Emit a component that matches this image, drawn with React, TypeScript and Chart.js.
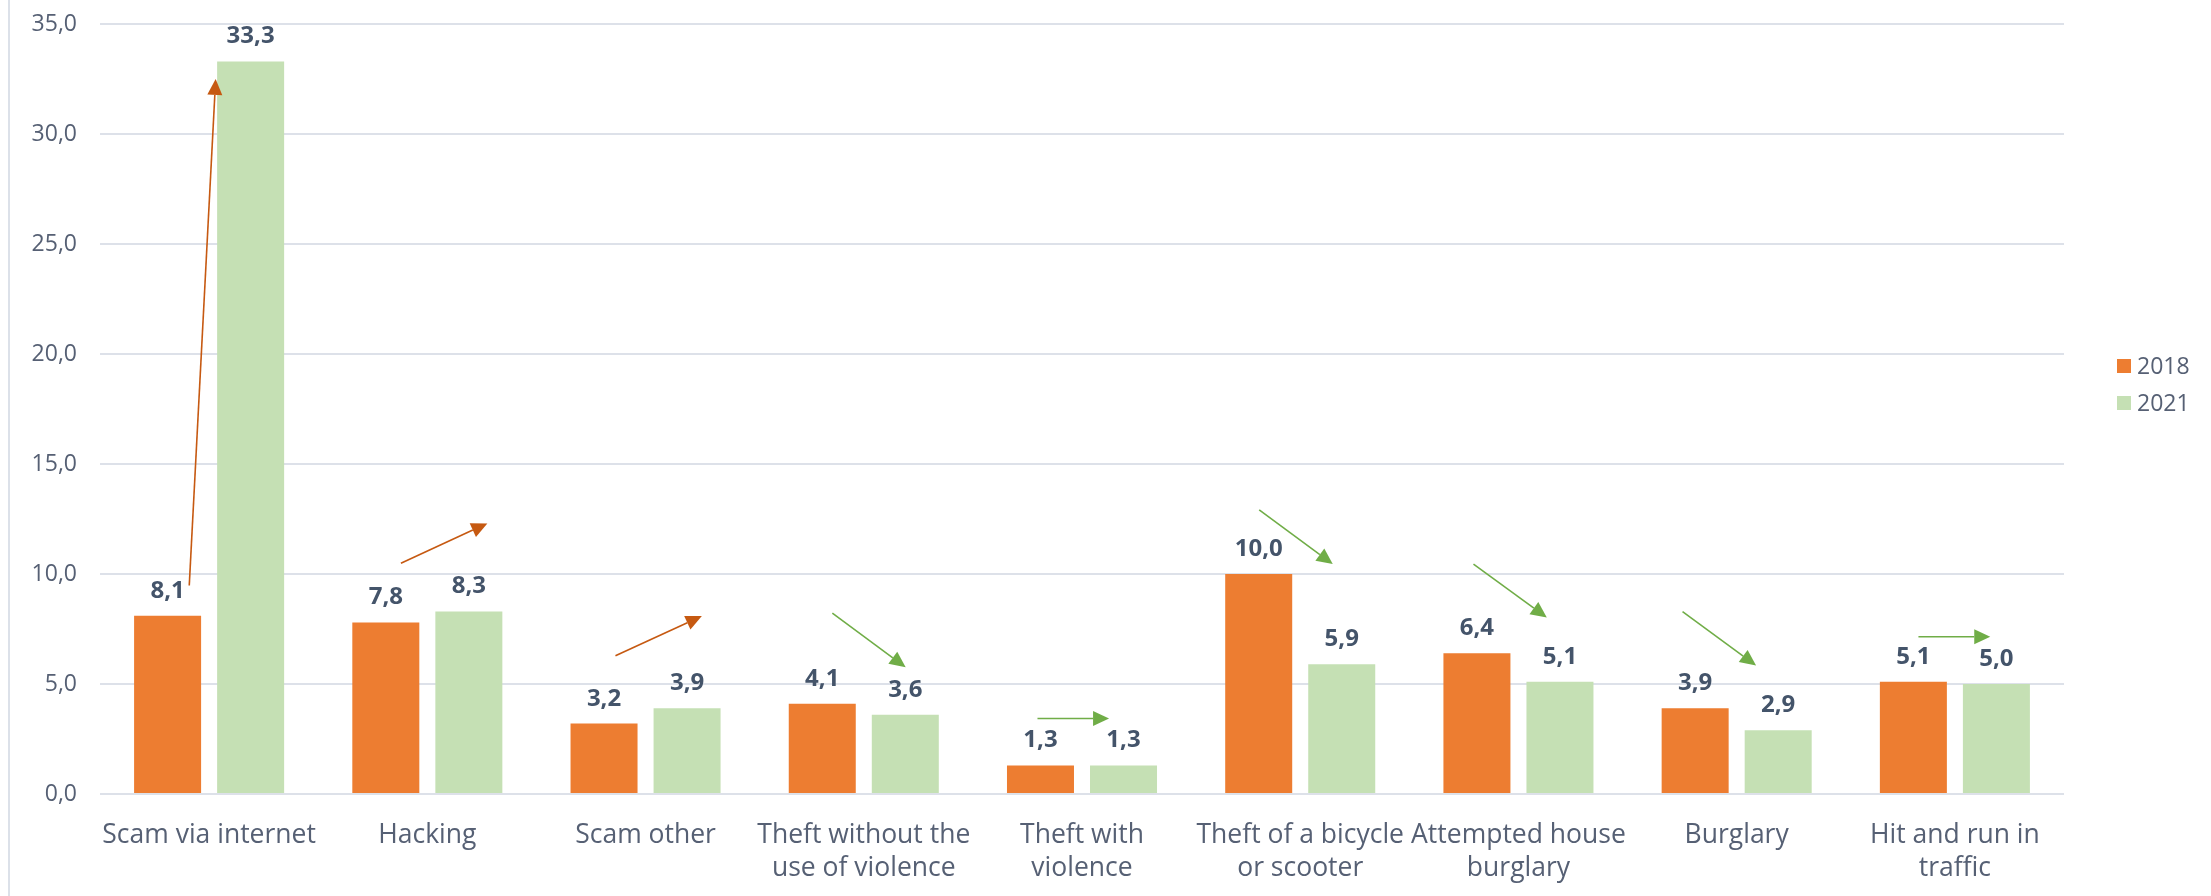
import { useEffect, useRef } from "react";
import { Chart, registerables } from "chart.js";

Chart.register(...registerables);

// Crime categories (multi-line where the axis label wraps)
const categories: (string | string[])[] = [
  "Scam via internet",
  "Hacking",
  "Scam other",
  ["Theft without the", "use of violence"],
  ["Theft with", "violence"],
  ["Theft of a bicycle", "or scooter"],
  ["Attempted house", "burglary"],
  "Burglary",
  ["Hit and run in", "traffic"],
];

const seriesLabels = ["2018", "2021"];
const values2018 = [8.1, 7.8, 3.2, 4.1, 1.3, 10.0, 6.4, 3.9, 5.1];
const values2021 = [33.3, 8.3, 3.9, 3.6, 1.3, 5.9, 5.1, 2.9, 5.0];

// Value axis range and tick step
const yMin = 0;
const yMax = 35;
const yStep = 5;

// Trend arrows, in axis units: [category position, value]
const arrowStart: [number, number][] = [
  [-0.091, 9.48],
  [0.879, 10.49],
  [1.862, 6.28],
  [2.856, 8.22],
  [3.796, 3.43],
  [4.812, 12.91],
  [5.794, 10.45],
  [6.752, 8.29],
  [7.833, 7.15],
];
const arrowEnd: [number, number][] = [
  [0.03, 32.5],
  [1.275, 12.3],
  [2.258, 8.09],
  [3.192, 5.76],
  [4.124, 3.43],
  [5.149, 10.45],
  [6.13, 8.02],
  [7.089, 5.84],
  [8.162, 7.15],
];

const FONT = "'Open Sans', sans-serif";
const ORANGE = "#ED7D31";
const GREEN = "#C5E0B4";
const UP_ARROW = "#C65911";
const DOWN_ARROW = "#70AD47";
const TEXT = "#566074";
const LABEL_TEXT = "#44546A";
const GRID = "#DDE1E9";

const fmt = (v: number) => v.toFixed(1).replace(".", ",");

const valueLabels = {
  id: "valueLabels",
  afterDatasetsDraw(chart: any) {
    const ctx = chart.ctx;
    ctx.save();
    ctx.font = `bold 24px ${FONT}`;
    ctx.fillStyle = LABEL_TEXT;
    ctx.textAlign = "center";
    ctx.textBaseline = "alphabetic";
    chart.data.datasets.forEach((ds: any, i: number) => {
      const meta = chart.getDatasetMeta(i);
      meta.data.forEach((bar: any, j: number) => {
        ctx.fillText(fmt(ds.data[j]), bar.x, bar.y - 18);
      });
    });
    ctx.restore();
  },
};

const trendArrows = {
  id: "trendArrows",
  afterDatasetsDraw(chart: any) {
    const ctx = chart.ctx;
    const xs = chart.scales.x;
    const ys = chart.scales.y;
    const headLen = 16;
    const headHalf = 7.5;
    ctx.save();
    arrowStart.forEach((s, i) => {
      const e = arrowEnd[i];
      const x1 = xs.getPixelForValue(s[0]);
      const y1 = ys.getPixelForValue(s[1]);
      const x2 = xs.getPixelForValue(e[0]);
      const y2 = ys.getPixelForValue(e[1]);
      const color = values2021[i] > values2018[i] ? UP_ARROW : DOWN_ARROW;
      const dx = x2 - x1;
      const dy = y2 - y1;
      const len = Math.hypot(dx, dy);
      const ux = dx / len;
      const uy = dy / len;
      const bx = x2 - ux * headLen;
      const by = y2 - uy * headLen;
      ctx.strokeStyle = color;
      ctx.fillStyle = color;
      ctx.lineWidth = 1.6;
      ctx.beginPath();
      ctx.moveTo(x1, y1);
      ctx.lineTo(bx, by);
      ctx.stroke();
      ctx.beginPath();
      ctx.moveTo(x2, y2);
      ctx.lineTo(bx - uy * headHalf, by + ux * headHalf);
      ctx.lineTo(bx + uy * headHalf, by - ux * headHalf);
      ctx.closePath();
      ctx.fill();
    });
    ctx.restore();
  },
};

const sideLegend = {
  id: "sideLegend",
  afterDraw(chart: any) {
    const ctx = chart.ctx;
    const area = chart.chartArea;
    const boxX = area.right + 53;
    const firstY = area.top + 342;
    const gap = 37;
    ctx.save();
    ctx.font = `23px ${FONT}`;
    ctx.textAlign = "left";
    ctx.textBaseline = "middle";
    chart.data.datasets.forEach((ds: any, i: number) => {
      const cy = firstY + i * gap;
      ctx.fillStyle = ds.backgroundColor;
      ctx.fillRect(boxX, cy - 7, 14, 14);
      ctx.fillStyle = TEXT;
      ctx.fillText(ds.label, boxX + 20, cy + 1);
    });
    ctx.restore();
  },
};

export default function App() {
  const canvasRef = useRef<HTMLCanvasElement | null>(null);

  useEffect(() => {
    const canvas = canvasRef.current;
    if (!canvas) return;
    const chart = new Chart(canvas, {
      type: "bar",
      data: {
        labels: categories,
        datasets: [
          {
            label: seriesLabels[0],
            data: values2018,
            backgroundColor: ORANGE,
            categoryPercentage: 0.761,
            barPercentage: 0.807,
          },
          {
            label: seriesLabels[1],
            data: values2021,
            backgroundColor: GREEN,
            categoryPercentage: 0.761,
            barPercentage: 0.807,
          },
        ],
      },
      options: {
        responsive: false,
        animation: false,
        layout: { padding: { top: 24, right: 147, bottom: 0, left: 0 } },
        plugins: {
          legend: { display: false },
          tooltip: { enabled: false },
        },
        scales: {
          x: {
            grid: { display: false },
            border: { display: false },
            ticks: {
              color: TEXT,
              font: { family: FONT, size: 26.5, lineHeight: 1.25 },
              padding: 17,
              autoSkip: false,
              maxRotation: 0,
              minRotation: 0,
            },
            afterFit(scale: any) {
              scale.height = 102;
            },
          },
          y: {
            min: yMin,
            max: yMax,
            border: { display: false },
            grid: { color: GRID, lineWidth: 2, drawTicks: false },
            ticks: {
              stepSize: yStep,
              color: TEXT,
              font: { family: FONT, size: 23 },
              padding: 23,
              callback: (v: any) => fmt(Number(v)),
            },
            afterFit(scale: any) {
              scale.width = 100;
              scale.paddingTop = 0;
              scale.paddingBottom = 0;
            },
          },
        },
      },
      plugins: [trendArrows, valueLabels, sideLegend],
    });
    return () => chart.destroy();
  }, []);

  return (
    <div
      style={{
        position: "fixed",
        left: 0,
        top: 0,
        width: 2211,
        height: 896,
        background: "#ffffff",
        overflow: "hidden",
      }}
    >
      <div
        style={{
          position: "absolute",
          left: 8,
          top: 0,
          width: 2,
          height: "100%",
          background: "#DCE1E9",
        }}
      />
      <canvas
        ref={canvasRef}
        width={2211}
        height={896}
        style={{ position: "absolute", left: 0, top: 0, display: "block" }}
      />
    </div>
  );
}
